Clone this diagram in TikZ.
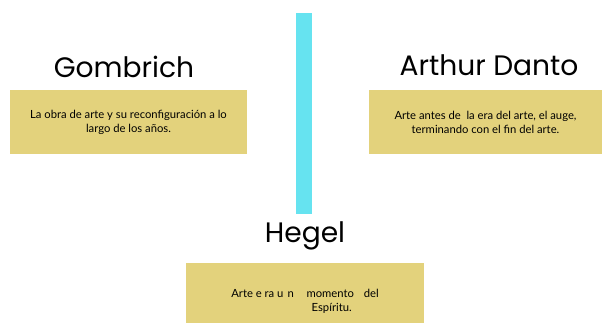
\documentclass[tikz,border=0pt]{standalone}
\usepackage{fontspec}
\setmainfont{Lato}
\newfontfamily\titlefont{Poppins}
\usetikzlibrary{calc,positioning}
\definecolor{boxkhaki}{HTML}{E3D27C}
\definecolor{barcyan}{HTML}{66E3F0}

\begin{document}
\begin{tikzpicture}[x=0.025cm,y=-0.025cm,
  textbox/.style={fill=boxkhaki,rectangle,minimum width=5.925cm,minimum height=1.6cm,align=center,font=\fontsize{8}{10}\selectfont,inner sep=0pt},
  title/.style={font=\titlefont\fontsize{20}{22}\selectfont,inner sep=0pt}]

  \useasboundingbox (0,0) rectangle (602,323);

  % central bar
  \node [fill=barcyan,rectangle,minimum width=.4cm,minimum height=5.025cm,inner sep=0pt] at(304,113.5) (bar) {};

  \node [textbox] at(128.5,122) (gombrich_box) {La obra de arte y su reconfiguración a lo\\largo de los años.};
  \node [title] at(124,67) (gombrich_label) {Gombrich};

  \node [textbox,minimum width=5.825cm] at(485.5,122) (danto_box) {Arte antes de \ la era del arte, el auge,\\terminando con el fin del arte.};
  \node [title] at(489,65) (danto_label) {Arthur Danto};

  \node [textbox,minimum width=5.95cm,minimum height=1.5cm] at(305,293) (hegel_box) {\rule{0pt}{18pt}Arte e\hspace{2pt}ra u\hspace{3pt}n\hspace{9pt}momento\hspace{7pt}del\\\hspace*{38pt}Espíritu.};
  \node [title] at(305,236) (hegel_label) {Hegel};

\end{tikzpicture}
\end{document}
